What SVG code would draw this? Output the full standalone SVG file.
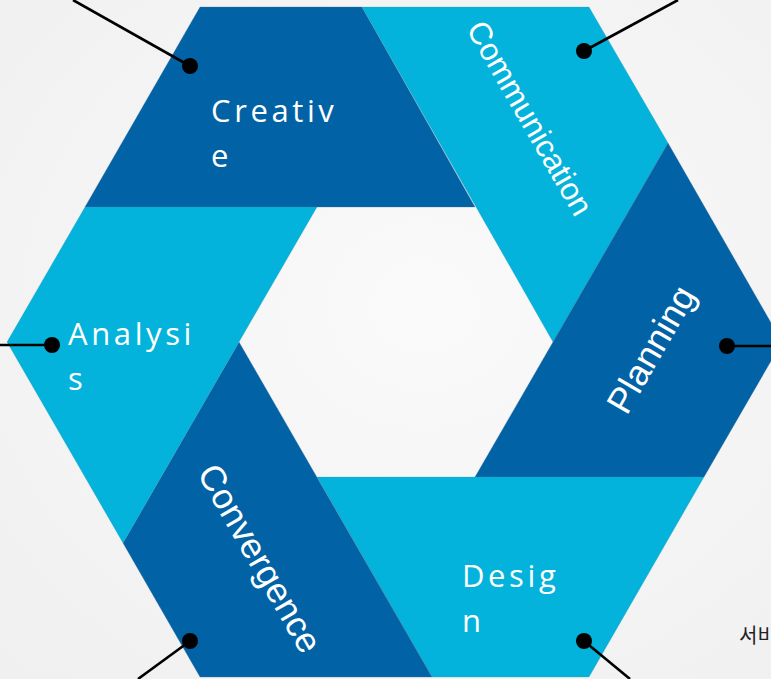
<svg xmlns="http://www.w3.org/2000/svg" width="771" height="679" viewBox="0 0 771 679">
<defs>
<radialGradient id="bg" cx="0.55" cy="0.45" r="0.75">
<stop offset="0" stop-color="#fafafa"/>
<stop offset="1" stop-color="#f0f0f0"/>
</radialGradient>
<style>
.dark{fill:#0262a6;stroke:#3f6f96;stroke-width:0.6;stroke-opacity:0.5}
.light{fill:#03b3db;stroke:#3f8fb0;stroke-width:0.6;stroke-opacity:0.4}
.hl{font-family:"Open Sans","Liberation Sans",sans-serif;font-size:31px;letter-spacing:3.6px;fill:#ffffff}
.rl{font-family:"Liberation Sans",Arial,sans-serif;fill:#ffffff;text-anchor:middle}
.con{stroke:#000000;stroke-width:2.6;fill:none}
.dot{fill:#000000}
.kr{font-family:"Noto Sans CJK KR","Noto Sans",sans-serif;font-size:20px;fill:#222222}
</style>
</defs>
<rect x="0" y="0" width="771" height="679" fill="url(#bg)"/>

<g id="creative">
<polygon class="dark" points="200,7 362,7 475,207 85,207"/>
<text class="hl" x="211" y="122">Creativ</text>
<text class="hl" x="211" y="167">e</text>
</g>

<g id="communication">
<polygon class="light" points="362,7 589,7 668,143 553,342"/>
<text class="rl" font-size="31.5" transform="translate(530,118) rotate(60)" x="0" y="11">Communication</text>
</g>

<g id="planning">
<polygon class="dark" points="668,143 782,342 704,477 475,477 553,342"/>
<text class="rl" font-size="36" transform="translate(654,351) rotate(-60)" x="0" y="9">Planning</text>
</g>

<g id="design">
<polygon class="light" points="317,477 704,477 589,677 432,677"/>
<text class="hl" x="462" y="587">Desig</text>
<text class="hl" x="462" y="632">n</text>
</g>

<g id="convergence">
<polygon class="dark" points="239,342 432,677 200,677 123,543"/>
<text class="rl" font-size="35.5" transform="translate(257,560) rotate(60)" x="0" y="9">Convergence</text>
</g>

<g id="analysis">
<polygon class="light" points="85,207 317,207 239,342 123,543 7,342"/>
<text class="hl" x="68" y="345">Analysi</text>
<text class="hl" x="68" y="390">s</text>
</g>

<g id="connectors">
<line class="con" x1="73" y1="0" x2="190" y2="66"/>
<circle class="dot" cx="190" cy="66" r="8"/>
<line class="con" x1="678" y1="0" x2="584" y2="51"/>
<circle class="dot" cx="584" cy="51" r="8"/>
<line class="con" x1="0" y1="345" x2="52" y2="345"/>
<circle class="dot" cx="52" cy="345" r="8"/>
<line class="con" x1="727" y1="346" x2="771" y2="346"/>
<circle class="dot" cx="727" cy="346" r="8"/>
<line class="con" x1="190" y1="641" x2="138" y2="679"/>
<circle class="dot" cx="190" cy="641" r="8"/>
<line class="con" x1="584" y1="641" x2="630" y2="679"/>
<circle class="dot" cx="584" cy="641" r="8"/>
</g>

<text class="kr" x="739" y="643">서비</text>
</svg>
